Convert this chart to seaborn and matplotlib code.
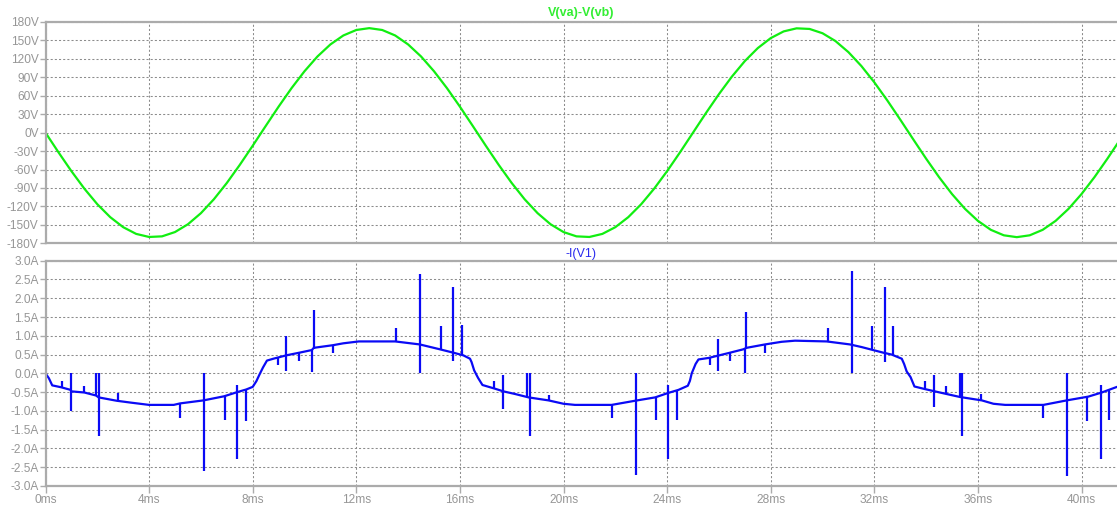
import numpy as np
import pandas as pd
import matplotlib
matplotlib.use("Agg")
import matplotlib.pyplot as plt
import seaborn as sns

# ---- V(va)-V(vb), sampled every 0.5 ms ----
v_time_ms = np.arange(84) * 0.5
v_volts = [
    0, -31.9, -62.6, -91.1, -116.4, -137.5, -153.8, -164.7, -169.7, -168.7,
    -161.7, -149.0, -131.0, -108.4, -81.9, -52.5, -21.3, 10.7, 42.3, 72.4,
    99.9, 123.9, 143.5, 158.1, 167.0, 170.0, 167.0, 158.1, 143.5, 123.9,
    99.9, 72.4, 42.3, 10.7, -21.3, -52.5, -81.9, -108.4, -131.0, -149.0,
    -161.7, -168.7, -169.7, -164.7, -153.8, -137.5, -116.4, -91.1, -62.6, -31.9,
    0.0, 31.9, 62.6, 91.1, 116.4, 137.5, 153.8, 164.7, 169.7, 168.7,
    161.7, 149.0, 131.0, 108.4, 81.9, 52.5, 21.3, -10.7, -42.3, -72.4,
    -99.9, -123.9, -143.5, -158.1, -167.0, -170.0, -167.0, -158.1, -143.5, -123.9,
    -99.9, -72.4, -42.3, -10.7,
]

# ---- -I(V1): smooth part of the source current ----
i_time_ms = [
    0.0, 0.13, 0.26, 0.6, 0.97, 1.0, 1.5, 1.95, 2.05, 2.75, 3.3, 3.65, 4.0,
    4.95, 5.2, 6.1, 6.9, 7.4, 7.75, 8.0, 8.14, 8.27, 8.4, 8.55, 8.8, 9.3,
    9.8, 10.28, 10.36, 11.1, 11.5, 12.1, 13.5, 14.45, 15.17, 15.75, 16.13,
    16.39, 16.45, 16.55, 16.7, 16.87, 17.36, 17.68, 18.13, 18.65, 19.42,
    20.0, 20.44, 21.86, 22.76, 23.54, 24.05, 24.44, 24.8, 24.88, 24.95,
    25.1, 25.21, 25.6, 26.37, 26.94, 27.07, 27.78, 28.42, 28.94, 30.16,
    31.06, 31.51, 31.9, 32.35, 32.67, 33.06, 33.15, 33.25, 33.4, 33.55,
    33.96, 34.34, 34.79, 35.31, 36.15, 36.6, 37.05, 38.53, 39.43, 40.26,
    40.78, 41.37,
]
i_amps = [
    0.0, -0.13, -0.32, -0.37, -0.44, -0.48, -0.51, -0.59, -0.64, -0.73, -0.78, -0.81, -0.84,
    -0.84, -0.80, -0.72, -0.61, -0.50, -0.43, -0.36, -0.21, -0.02, 0.16, 0.34, 0.39, 0.48,
    0.55, 0.62, 0.68, 0.75, 0.80, 0.85, 0.85, 0.77, 0.65, 0.55, 0.48,
    0.39, 0.30, 0.08, -0.12, -0.31, -0.41, -0.48, -0.55, -0.64, -0.72,
    -0.81, -0.84, -0.84, -0.73, -0.64, -0.52, -0.44, -0.33, -0.20, 0.0,
    0.25, 0.37, 0.41, 0.54, 0.64, 0.68, 0.77, 0.84, 0.87, 0.85,
    0.77, 0.70, 0.63, 0.55, 0.50, 0.39, 0.25, 0.05, -0.10, -0.35,
    -0.42, -0.48, -0.55, -0.63, -0.72, -0.81, -0.84, -0.84, -0.72, -0.62,
    -0.51, -0.36,
]

# ---- -I(V1): switching spikes (time, top, bottom) ----
spike_t_ms = [
    0.64, 0.99, 1.5, 1.96, 2.05, 2.8, 5.19, 6.13, 6.92, 7.40, 7.76,
    8.96, 9.29, 9.79, 10.28, 10.36, 11.09, 13.53, 14.46, 15.26, 15.75, 16.1,
    17.32, 17.65, 18.6, 18.7, 19.44, 21.86, 22.78, 23.58, 24.05, 24.39,
    25.64, 25.98, 26.44, 27.0, 27.06, 27.78, 30.2, 31.13, 31.9, 32.41, 32.74,
    33.96, 34.32, 34.77, 35.3, 35.39, 36.13, 38.53, 39.45, 40.22, 40.74, 41.06,
]
spike_top = [
    -0.20, 0.0, -0.33, 0.0, 0.0, -0.51, -0.80, 0.0, -0.61, -0.30, -0.43,
    0.42, 1.0, 0.55, 0.63, 1.68, 0.75, 1.2, 2.64, 1.26, 2.31, 1.29,
    -0.21, -0.04, 0.0, 0.0, -0.57, -0.84, 0.0, -0.64, -0.32, -0.44,
    0.41, 0.91, 0.54, 0.64, 1.64, 0.77, 1.2, 2.73, 1.26, 2.30, 1.26,
    -0.21, -0.04, -0.35, 0.0, 0.0, -0.54, -0.84, 0.0, -0.62, -0.32, -0.43,
]
spike_bottom = [
    -0.37, -1.0, -0.51, -0.59, -1.67, -0.73, -1.18, -2.61, -1.25, -2.27, -1.27,
    0.21, 0.05, 0.34, 0.04, 0.66, 0.55, 0.85, 0.01, 0.63, 0.32, 0.48,
    -0.41, -0.95, -0.64, -1.67, -0.72, -1.18, -2.70, -1.25, -2.29, -1.25,
    0.21, 0.05, 0.34, 0.02, 0.66, 0.55, 0.85, 0.01, 0.63, 0.30, 0.50,
    -0.42, -0.89, -0.55, -0.63, -1.67, -0.72, -1.20, -2.73, -1.26, -2.29, -1.23,
]

v_ticks = [180, 150, 120, 90, 60, 30, 0, -30, -60, -90, -120, -150, -180]
i_ticks = [3.0, 2.5, 2.0, 1.5, 1.0, 0.5, 0.0, -0.5, -1.0, -1.5, -2.0, -2.5, -3.0]
t_ticks = [0, 4, 8, 12, 16, 20, 24, 28, 32, 36, 40]

sns.set_theme(style="white")
plt.rcParams["font.family"] = ["Liberation Sans", "DejaVu Sans"]

W, H = 1117, 505
fig = plt.figure(figsize=(W / 100, H / 100), dpi=100)
fig.patch.set_facecolor("white")
left = 45.5 / W
ax_v = fig.add_axes([left, 1 - 243.3 / H, 1 - left, 221.3 / H])
ax_i = fig.add_axes([left, 1 - 486.0 / H, 1 - left, 225.3 / H])

frame = "#ababab"
label_col = "#969696"
grid_col = "#8c8c8c"

for ax in (ax_v, ax_i):
    ax.set_facecolor("white")
    ax.set_xlim(0, 41.37)
    ax.set_xticks(t_ticks)
    for side in ("left", "top", "bottom"):
        ax.spines[side].set_color(frame)
        ax.spines[side].set_linewidth(1.6)
    ax.spines["right"].set_visible(False)
    ax.grid(True, color=grid_col, linestyle=(0, (2, 2)), linewidth=0.75)
    ax.set_axisbelow(True)
    ax.tick_params(axis="y", which="both", left=True, length=4, width=1,
                   color=frame, labelcolor=label_col, labelsize=8.6, pad=1)

# Voltage pane
sns.lineplot(x=v_time_ms, y=v_volts, ax=ax_v, color="#11ee11",
             linewidth=1.6, estimator=None, sort=False, legend=False)
ax_v.set_ylim(-180, 180)
ax_v.set_yticks(v_ticks)
ax_v.set_yticklabels([f"{v}V" for v in v_ticks])
ax_v.set_xlim(0, 41.37)
ax_v.tick_params(axis="x", bottom=False, labelbottom=False)
ax_v.set_xlabel("")
ax_v.set_ylabel("")
ax_v.set_title("V(va)-V(vb)", color="#33ee33", fontsize=9,
               fontweight="bold", pad=4)

# Current pane
sns.lineplot(x=i_time_ms, y=i_amps, ax=ax_i, color="#0a0af5",
             linewidth=1.6, estimator=None, sort=False, legend=False)
ax_i.vlines(spike_t_ms, spike_bottom, spike_top, color="#0a0af5", linewidth=1.6)
ax_i.set_ylim(-3.0, 3.0)
ax_i.set_yticks(i_ticks)
ax_i.set_yticklabels([f"{v:.1f}A" for v in i_ticks])
ax_i.set_xlim(0, 41.37)
ax_i.set_xticks(t_ticks)
ax_i.set_xticklabels([f"{t}ms" for t in t_ticks])
ax_i.tick_params(axis="x", bottom=True, length=5, width=1, color=frame,
                 labelcolor=label_col, labelsize=8.6, pad=1)
ax_i.set_xlabel("")
ax_i.set_ylabel("")
ax_i.set_title("-I(V1)", color="#2a2aee", fontsize=9, pad=3)

fig.savefig("out.png", dpi=100, facecolor="white")
